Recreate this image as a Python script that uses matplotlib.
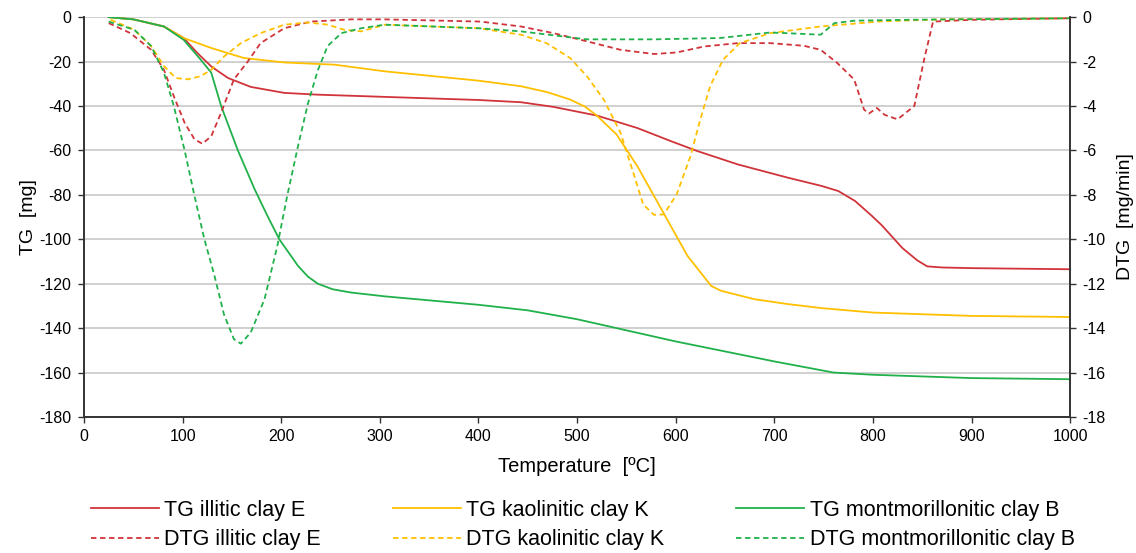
import matplotlib.pyplot as plt

plt.rcParams['font.family'] = ['Liberation Sans', 'DejaVu Sans']
plt.rcParams['axes.unicode_minus'] = False

# TG curves [mg]
tg_e_t = [25, 50, 81, 101, 115, 129, 146, 169, 203, 237, 305, 400, 443, 476, 520, 561, 595, 622,
          663, 714, 748, 765, 782, 799, 809, 830, 845, 855, 870, 900, 1000]
tg_e = [0, -1, -4.2, -9.4, -16.2, -22.2, -27.4, -31.4, -34.1, -34.9, -35.9, -37.3, -38.3, -40.4,
        -44.3, -49.9, -55.8, -60.3, -66.3, -72.3, -76, -78.3, -82.8, -89.5, -93.7, -104, -109.5,
        -112.2, -112.7, -113, -113.5]

tg_k_t = [25, 50, 81, 101, 129, 162, 203, 254, 305, 400, 443, 470, 493, 508, 520, 540, 561, 578,
          595, 612, 636, 646, 680, 714, 748, 800, 900, 1000]
tg_k = [0, -1, -4.2, -9.4, -13.9, -18.4, -20.4, -21.4, -24.4, -28.6, -31.1, -33.8, -37.1, -40.3,
        -44.3, -52.8, -67, -80.5, -94, -107.5, -121, -123.2, -127, -129.2, -131, -133, -134.5, -135]

tg_b_t = [25, 50, 81, 101, 118, 129, 139, 156, 173, 186, 198, 217, 227, 237, 252, 271, 305, 400,
          450, 500, 550, 600, 650, 700, 760, 800, 900, 1000]
tg_b = [0, -1, -4.2, -10.2, -19, -25, -40, -60, -77.5, -89.5, -100, -112, -116.8, -120, -122.5,
        -124, -125.7, -129.5, -132, -136, -141, -146, -150.5, -155, -160, -161, -162.5, -163]

# DTG curves [mg/min]
dtg_e_t = [25, 47, 68, 81, 91, 102, 112, 120, 129, 139, 152, 166, 179, 203, 230, 271, 305, 402,
           443, 476, 510, 544, 578, 601, 629, 663, 696, 730, 747, 764, 781, 791, 796, 804, 812,
           825, 842, 852, 861, 900, 1000]
dtg_e = [-0.27, -0.72, -1.47, -2.37, -3.56, -4.76, -5.5, -5.7, -5.36, -4.3, -2.8, -2.0, -1.17,
         -0.5, -0.2, -0.1, -0.1, -0.2, -0.42, -0.72, -1.09, -1.47, -1.66, -1.59, -1.32, -1.17,
         -1.17, -1.29, -1.47, -2.07, -2.81, -4.16, -4.34, -4.09, -4.4, -4.6, -4.0, -1.9, -0.2,
         -0.12, -0.05]

dtg_k_t = [27, 51, 68, 81, 93, 105, 118, 129, 142, 159, 179, 203, 227, 247, 264, 281, 305, 400,
           443, 469, 493, 510, 527, 544, 557, 567, 578, 588, 601, 615, 625, 635, 648, 665, 696,
           747, 808, 869, 1000]
dtg_k = [-0.12, -0.57, -1.3, -2.2, -2.74, -2.8, -2.66, -2.37, -1.77, -1.17, -0.72, -0.34, -0.24,
         -0.34, -0.57, -0.64, -0.34, -0.5, -0.79, -1.17, -1.84, -2.66, -3.71, -5.2, -7.0, -8.43,
         -8.9, -8.88, -7.98, -6.26, -4.6, -3.1, -1.92, -1.17, -0.72, -0.42, -0.19, -0.1, -0.05]

dtg_b_t = [25, 51, 68, 81, 91, 102, 112, 122, 132, 142, 152, 159, 169, 183, 196, 206, 217, 227,
           237, 247, 261, 281, 305, 400, 443, 510, 578, 645, 696, 747, 761, 781, 835, 1000]
dtg_b = [-0.2, -0.57, -1.3, -2.5, -4.0, -6.0, -8.05, -10, -11.6, -13.4, -14.5, -14.7, -14.2,
         -12.7, -10.3, -8.05, -5.8, -3.9, -2.4, -1.3, -0.72, -0.5, -0.34, -0.5, -0.64, -1.0,
         -1.0, -0.94, -0.69, -0.79, -0.27, -0.16, -0.12, -0.05]

red = '#D0343A'
yellow = '#FFC000'
green = '#21B14B'

fig = plt.figure(figsize=(11.36, 5.53), dpi=100)
ax = fig.add_axes([0.074, 0.246, 0.868, 0.723])
ax2 = ax.twinx()

dash = (0, (3, 2))
l1, = ax.plot(tg_e_t, tg_e, color=red, lw=1.3, label='TG illitic clay E')
l2, = ax.plot(tg_k_t, tg_k, color=yellow, lw=1.3, label='TG kaolinitic clay K')
l3, = ax.plot(tg_b_t, tg_b, color=green, lw=1.3, label='TG montmorillonitic clay B')
l4, = ax2.plot(dtg_e_t, dtg_e, color=red, lw=1.3, ls=dash, label='DTG illitic clay E')
l5, = ax2.plot(dtg_k_t, dtg_k, color=yellow, lw=1.3, ls=dash, label='DTG kaolinitic clay K')
l6, = ax2.plot(dtg_b_t, dtg_b, color=green, lw=1.3, ls=dash, label='DTG montmorillonitic clay B')

ax.set_xlim(0, 1000)
ax.set_ylim(-180, 0)
ax2.set_ylim(-18, 0)
ax.set_xticks(range(0, 1001, 100))
ax.set_yticks(range(-180, 1, 20))
ax2.set_yticks(range(-18, 1, 2))
ax.grid(axis='y', color='#C8C8C8', lw=1.2)
ax.set_axisbelow(True)

for a in (ax, ax2):
    for s in a.spines.values():
        s.set_color('#333333')
        s.set_linewidth(1.2)
    a.spines['top'].set_visible(False)
    a.tick_params(labelsize=11.5, length=4, width=1.0, color='#333333', direction='out', pad=5)

ax.set_xlabel('Temperature  [ºC]', fontsize=14.5, labelpad=9)
ax.set_ylabel('TG  [mg]', fontsize=14, labelpad=2)
ax2.set_ylabel('DTG  [mg/min]', fontsize=14, labelpad=8)

# row-wise order: TG row on top, DTG row below
handles = [l1, l4, l2, l5, l3, l6]
fig.legend(handles, [h.get_label() for h in handles], ncol=3, loc='lower center',
           bbox_to_anchor=(0.513, -0.03), frameon=False, fontsize=15.5, handlelength=3.15,
           columnspacing=3.35, handletextpad=0.25, labelspacing=0.4)

fig.savefig('out.png', dpi=100)
